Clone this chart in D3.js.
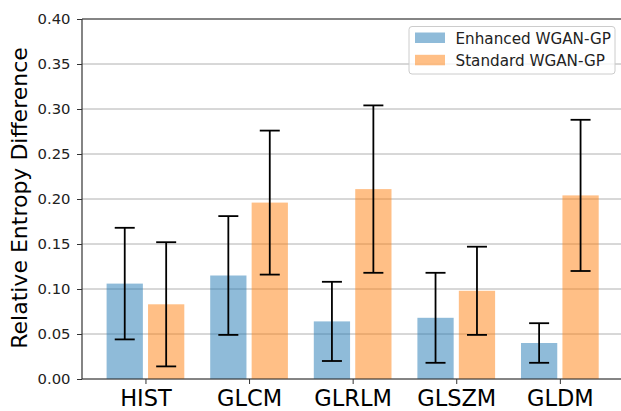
<!DOCTYPE html>
<html>
<head>
<meta charset="utf-8">
<script src="https://cdn.jsdelivr.net/npm/d3@7"></script>
<style>
  body { margin: 0; background: #fff; }
  svg { display: block; font-family: "DejaVu Sans", sans-serif; }
</style>
</head>
<body>
<div id="chart"></div>
<script>
// chart size, same as the reference picture
const WIDTH = 621,
      HEIGHT = 411;

// data
const categories = ["HIST", "GLCM", "GLRLM", "GLSZM", "GLDM"];
const enhancedMean = [0.106, 0.115, 0.064, 0.068, 0.040];
const enhancedErr  = [0.062, 0.066, 0.044, 0.050, 0.022];
const standardMean = [0.083, 0.196, 0.211, 0.098, 0.204];
const standardErr  = [0.069, 0.080, 0.093, 0.049, 0.084];
const yTicks = [0, 0.05, 0.10, 0.15, 0.20, 0.25, 0.30, 0.35, 0.40];
const seriesNames = ["Enhanced WGAN-GP", "Standard WGAN-GP"];
const seriesColors = ["#1f77b4", "#ff7f0e"];

const margin = { left: 82, top: 19, right: 623.3, bottom: 379 };
const barW = 0.35, offset = 0.2;

let svg = d3.select("#chart")
    .append("svg")
    .attr("width", WIDTH)
    .attr("height", HEIGHT);

// matplotlib style x limits: bars span -0.375..4.375 plus 5% margins
const x = d3.scaleLinear()
    .domain([-0.6125, 4.6125])
    .range([margin.left, margin.right]);

const y = d3.scaleLinear()
    .domain([0, 0.4])
    .range([margin.bottom, margin.top]);

// grid lines
svg.append("g")
    .selectAll("line")
    .data(yTicks)
    .enter()
    .append("line")
    .attr("x1", margin.left)
    .attr("x2", margin.right)
    .attr("y1", d => y(d))
    .attr("y2", d => y(d))
    .attr("stroke", "#b0b0b0")
    .attr("stroke-width", 1);

// both series as rows of bars
const series = [
    { mean: enhancedMean, err: enhancedErr, shift: -offset, color: seriesColors[0] },
    { mean: standardMean, err: standardErr, shift: offset, color: seriesColors[1] }
];

series.forEach(s => {
    const rows = categories.map((c, i) => ({ i: i, m: s.mean[i], e: s.err[i] }));

    svg.append("g")
        .selectAll("rect")
        .data(rows)
        .enter()
        .append("rect")
        .attr("x", d => x(d.i + s.shift - barW / 2))
        .attr("width", d => x(barW) - x(0))
        .attr("y", d => y(d.m))
        .attr("height", d => y(0) - y(d.m))
        .attr("fill", s.color)
        .attr("fill-opacity", 0.5);

    // error bars with caps
    const eb = svg.append("g")
        .attr("stroke", "#000")
        .attr("stroke-width", 1.8);
    rows.forEach(d => {
        const cx = x(d.i + s.shift);
        eb.append("line")
            .attr("x1", cx).attr("x2", cx)
            .attr("y1", y(d.m - d.e)).attr("y2", y(d.m + d.e));
        [d.m - d.e, d.m + d.e].forEach(v => {
            eb.append("line")
                .attr("x1", cx - 10).attr("x2", cx + 10)
                .attr("y1", y(v)).attr("y2", y(v));
        });
    });
});

// axes
const yAxis = svg.append("g")
    .attr("transform", `translate(${margin.left},0)`)
    .call(d3.axisLeft(y).tickValues(yTicks).tickFormat(d3.format(".2f")).tickSize(5).tickPadding(6.5));
yAxis.select(".domain").remove();
yAxis.selectAll("text")
    .style("font-size", "14.8px")
    .style("font-family", "DejaVu Sans")
    .attr("fill", "#222");

const xAxis = svg.append("g")
    .attr("transform", `translate(0,${margin.bottom})`)
    .call(d3.axisBottom(x).tickValues(d3.range(categories.length)).tickFormat(i => categories[i]).tickSize(5).tickPadding(6.5));
xAxis.select(".domain").remove();
xAxis.selectAll("text")
    .style("font-size", "22.5px")
    .style("font-family", "DejaVu Sans")
    .attr("fill", "#000");
svg.selectAll(".tick line").attr("stroke", "#333");

// spines
const spine = svg.append("g").attr("stroke", "#333").attr("stroke-width", 1.2).attr("fill", "none");
spine.append("line").attr("x1", margin.left).attr("x2", margin.left).attr("y1", margin.top).attr("y2", margin.bottom);
spine.append("line").attr("x1", margin.left).attr("x2", margin.right).attr("y1", margin.bottom).attr("y2", margin.bottom);
spine.append("line").attr("x1", margin.left).attr("x2", margin.right).attr("y1", margin.top).attr("y2", margin.top);
spine.append("line").attr("x1", margin.right).attr("x2", margin.right).attr("y1", margin.top).attr("y2", margin.bottom);

// y label
svg.append("text")
    .attr("transform", "translate(27,198) rotate(-90)")
    .attr("text-anchor", "middle")
    .style("font-size", "22px")
    .text("Relative Entropy Difference");

// legend
const legend = svg.append("g").attr("transform", "translate(409,26.5)");
legend.append("rect")
    .attr("width", 206)
    .attr("height", 47.5)
    .attr("rx", 3)
    .attr("fill", "#fff")
    .attr("fill-opacity", 0.8)
    .attr("stroke", "#ccc");
seriesNames.forEach((name, i) => {
    legend.append("rect")
        .attr("x", 6)
        .attr("y", 6 + i * 22.3)
        .attr("width", 30)
        .attr("height", 10.5)
        .attr("fill", seriesColors[i])
        .attr("fill-opacity", 0.5);
    legend.append("text")
        .attr("x", 46.5)
        .attr("y", 17 + i * 22.3)
        .style("font-size", "15.2px")
        .attr("fill", "#222")
        .text(name);
});
</script>
</body>
</html>
